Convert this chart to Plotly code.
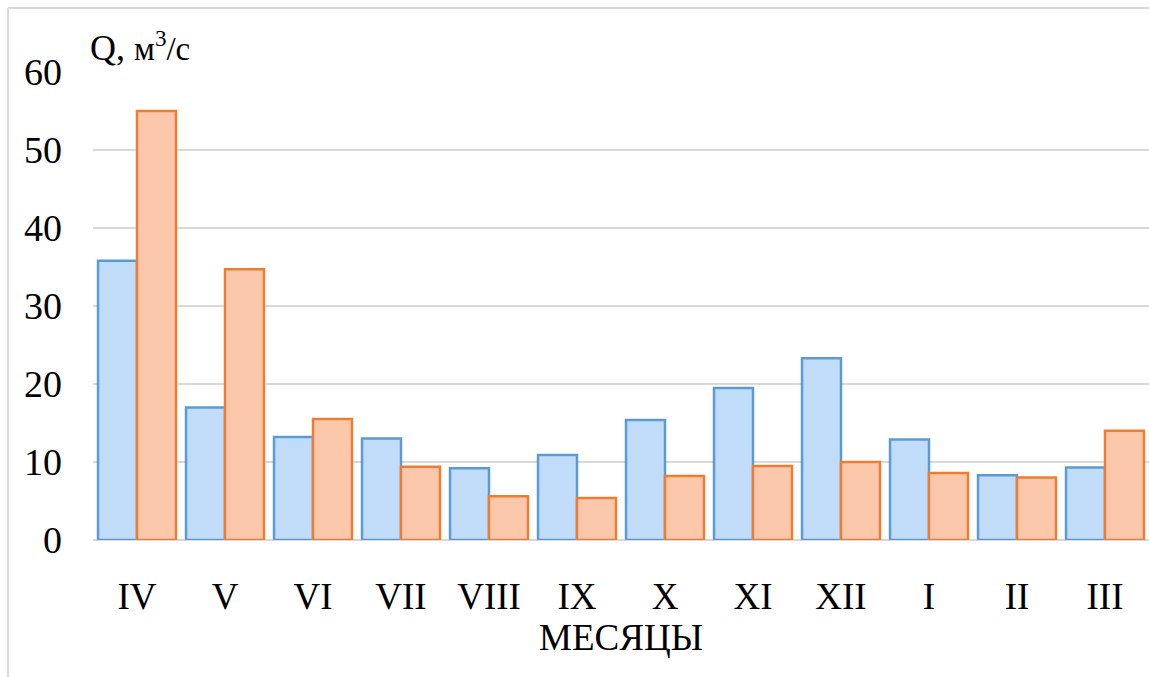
import plotly.graph_objects as go

months = ["IV", "V", "VI", "VII", "VIII", "IX", "X", "XI", "XII", "I", "II", "III"]
series_blue = [35.8, 17.0, 13.2, 13.0, 9.2, 10.9, 15.4, 19.5, 23.3, 12.9, 8.3, 9.3]
series_orange = [55.0, 34.7, 15.5, 9.4, 5.6, 5.4, 8.2, 9.5, 10.0, 8.6, 8.0, 14.0]
y_ticks = [0, 10, 20, 30, 40, 50, 60]

W, H = 1149, 677
ML, MR, MT, MB = 93, 0, 72, 137
FONT = "Liberation Serif"

fig = go.Figure()
fig.add_trace(go.Bar(
    x=months, y=series_blue, name="blue",
    marker=dict(color="#C0DCF9", line=dict(color="#5B9BD5", width=2.5)),
))
fig.add_trace(go.Bar(
    x=months, y=series_orange, name="orange",
    marker=dict(color="#FCC8AC", line=dict(color="#ED7D31", width=2.5)),
))

pw = W - ML - MR
ph = H - MT - MB
fig.update_layout(
    width=W, height=H,
    margin=dict(l=ML, r=MR, t=MT, b=MB),
    paper_bgcolor="white", plot_bgcolor="white",
    barmode="group", bargap=0.114, bargroupgap=0,
    showlegend=False,
    font=dict(family=FONT, color="black", size=36),
    xaxis=dict(
        tickfont=dict(family=FONT, size=37, color="black"),
        showgrid=False, showline=False, ticks="",
        ticklabelstandoff=31,
        title=dict(text="МЕСЯЦЫ", font=dict(family=FONT, size=37, color="black"), standoff=8),
    ),
    yaxis=dict(
        range=[0, 60], tickvals=y_ticks,
        tickfont=dict(family=FONT, size=38, color="black"),
        showgrid=True, gridcolor="#D9D9D9", gridwidth=2,
        zeroline=True, zerolinecolor="#D9D9D9", zerolinewidth=2,
        showline=False, ticks="", ticklabelstandoff=30,
    ),
    annotations=[dict(
        text="Q, <span style='font-size:33px'>м<sup>3</sup>/с</span>",
        xref="paper", yref="paper", x=0, y=1, xanchor="left", yanchor="bottom",
        xshift=-5, yshift=2, showarrow=False,
        font=dict(family=FONT, size=36, color="black"),
    )],
    shapes=[
        dict(type="line", xref="paper", yref="paper",
             x0=(8 - ML) / pw, x1=(8 - ML) / pw, y0=(H - MB - 8) / ph, y1=(H - MB - H) / ph,
             line=dict(color="#D9D9D9", width=2)),
        dict(type="line", xref="paper", yref="paper",
             x0=(8 - ML) / pw, x1=(W - ML) / pw, y0=(H - MB - 8) / ph, y1=(H - MB - 8) / ph,
             line=dict(color="#D9D9D9", width=2)),
    ],
)

fig.write_html("out.html")
